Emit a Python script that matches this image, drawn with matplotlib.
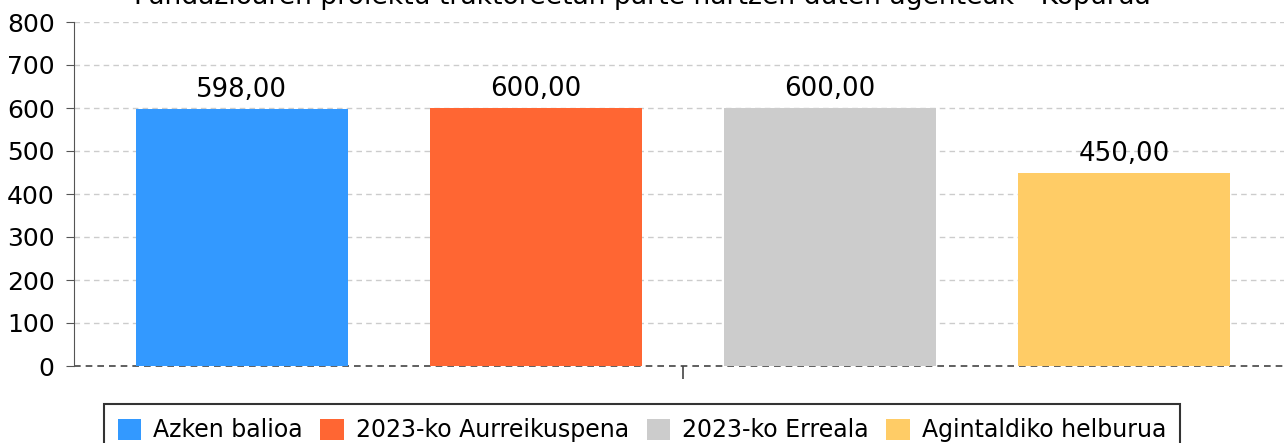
import matplotlib.pyplot as plt

# datuak
title = "Fundazioaren proiektu traktoreetan parte hartzen duten agenteak - Kopurua"
series = ["Azken balioa", "2023-ko Aurreikuspena", "2023-ko Erreala", "Agintaldiko helburua"]
values = [598, 600, 600, 450]
colors = ["#3399FF", "#FF6633", "#CCCCCC", "#FFCC66"]
positions = [-1.5, -0.5, 0.5, 1.5]
y_ticks = [0, 100, 200, 300, 400, 500, 600, 700, 800]

plt.rcParams['font.family'] = ['DejaVu Sans']

fig = plt.figure(figsize=(12.84, 4.43), dpi=100)
ax = fig.add_axes([74 / 1284, 77 / 443, 1218 / 1284, 344 / 443])

for p, v, c, s in zip(positions, values, colors, series):
    ax.bar(p, v, width=0.72, color=c, label=s, zorder=3)
    ax.annotate(f"{v:.2f}".replace('.', ','), (p, v), xytext=(0, 4),
                textcoords='offset points', ha='center', va='bottom', fontsize=18.7)

ax.set_xlim(-2.071, 2.071)
ax.set_ylim(0, 800)
ax.set_yticks(y_ticks)
ax.set_xticks([0])
ax.set_xticklabels([""])
ax.tick_params(axis='y', labelsize=18, length=6, color='#555555', pad=8)
ax.tick_params(axis='x', length=9, width=1.2, color='#444444')

for y in y_ticks[1:]:
    ax.axhline(y, color='#CCCCCC', linestyle=(0, (4, 3)), linewidth=1, zorder=1)
ax.axhline(0, color='#444444', linestyle=(0, (4, 3)), linewidth=1.2, zorder=2, clip_on=False)

for sp in ['top', 'right', 'bottom']:
    ax.spines[sp].set_visible(False)
ax.spines['left'].set_color('#555555')

fig.text(0.5, 1 - 4 / 443, title, ha='center', va='baseline', fontsize=19.2)

leg = fig.legend(loc='upper center', bbox_to_anchor=(0.5, 39 / 443), ncol=4,
                 fontsize=17, frameon=True, fancybox=False, edgecolor='black',
                 handlelength=1, handleheight=1, handletextpad=0.5,
                 columnspacing=0.75, borderpad=0.6, borderaxespad=0)
leg.get_frame().set_linewidth(1.5)

fig.savefig("out.png", dpi=100)
